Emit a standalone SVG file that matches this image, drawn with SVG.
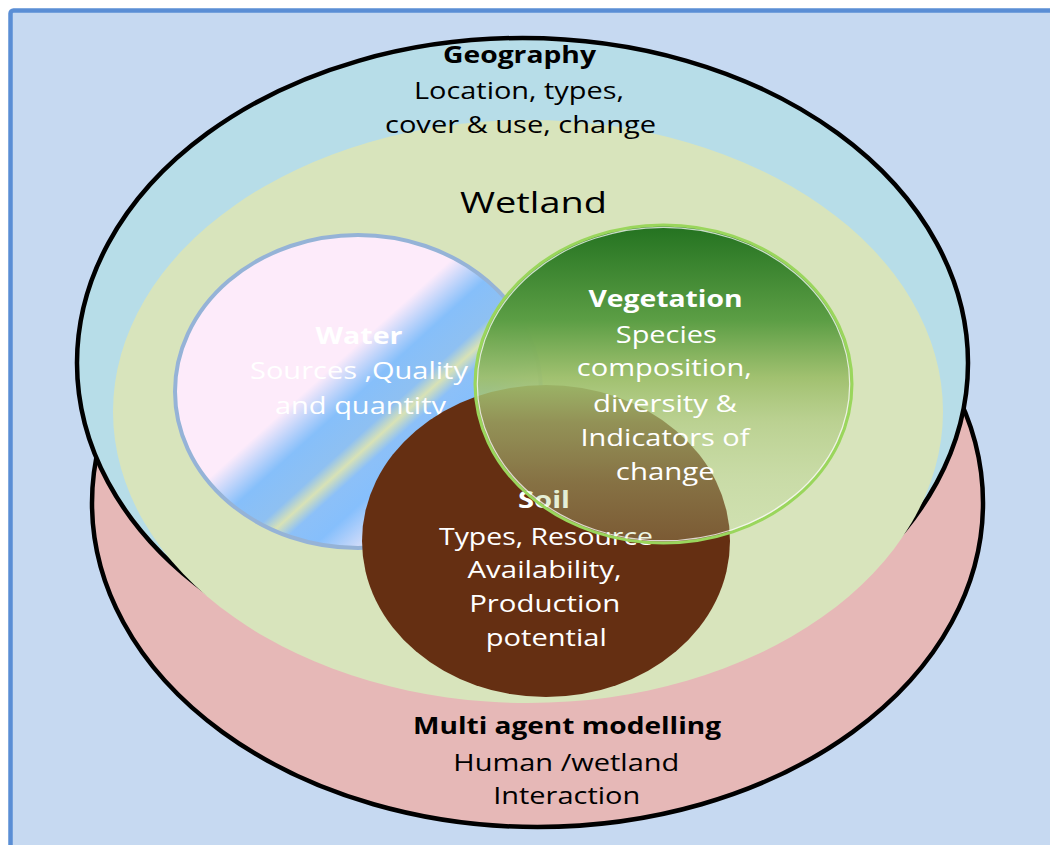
<svg xmlns="http://www.w3.org/2000/svg" width="1050" height="845" viewBox="0 0 1050 845">
  <defs>
    <style>
      text { font-family: "Open Sans", "Noto Sans", "Liberation Sans", sans-serif; text-anchor: middle; }
      .lbl { font-size: 24px; }
      .ttl { font-size: 24px; font-weight: bold; }
      .dark { fill: #000000; }
      .light { fill: #FFFFFF; }
      .ring { stroke: #000000; stroke-width: 4.5; }
    </style>
    <!-- diagonal pink / blue band fill of the water circle -->
    <linearGradient id="waterFill" gradientUnits="userSpaceOnUse" x1="250" y1="270" x2="480" y2="525">
      <stop offset="0" stop-color="#FDEBFA"/>
      <stop offset="0.37" stop-color="#FDEBFA"/>
      <stop offset="0.48" stop-color="#86BFFA"/>
      <stop offset="0.57" stop-color="#8EC0F2"/>
      <stop offset="0.61" stop-color="#D8E2B6"/>
      <stop offset="0.65" stop-color="#8CC0F8"/>
      <stop offset="0.72" stop-color="#86BFFC"/>
      <stop offset="0.84" stop-color="#E6E4F8"/>
      <stop offset="1" stop-color="#FDEBFA"/>
    </linearGradient>
    <!-- vertical green fill of the vegetation circle, fading out towards the bottom -->
    <linearGradient id="vegFill" x1="0" y1="0" x2="0" y2="1">
      <stop offset="0" stop-color="#237220" stop-opacity="1"/>
      <stop offset="0.3" stop-color="#5C9E45" stop-opacity="1"/>
      <stop offset="0.48" stop-color="#9EBF6C" stop-opacity="0.95"/>
      <stop offset="0.62" stop-color="#ABC77B" stop-opacity="0.65"/>
      <stop offset="0.8" stop-color="#B5D08A" stop-opacity="0.42"/>
      <stop offset="1" stop-color="#BCD896" stop-opacity="0.25"/>
    </linearGradient>
  </defs>

  <!-- page -->
  <rect x="0" y="0" width="1050" height="845" fill="#FFFFFF"/>
  <rect x="10.5" y="10.5" width="1100" height="900" rx="3" fill="#C6D9F1" stroke="#5A8ED5" stroke-width="4.5"/>

  <!-- outer band: multi agent modelling -->
  <g id="multi-agent">
    <ellipse cx="537.5" cy="503" rx="445.5" ry="324" fill="#E6B8B7" class="ring"/>
    <text class="ttl dark" x="567" y="734" textLength="308" lengthAdjust="spacingAndGlyphs">Multi agent modelling</text>
    <text class="lbl dark" x="566.3" y="770.5" textLength="226" lengthAdjust="spacingAndGlyphs">Human /wetland</text>
    <text class="lbl dark" x="566.7" y="804" textLength="147" lengthAdjust="spacingAndGlyphs">Interaction</text>
  </g>

  <!-- geography band -->
  <g id="geography">
    <ellipse cx="522.5" cy="363" rx="445.5" ry="325" fill="#B7DDE8" class="ring"/>
  </g>

  <!-- wetland -->
  <g id="wetland">
    <ellipse cx="528" cy="411.5" rx="415" ry="291.5" fill="#D8E4BC"/>
    <text class="dark" x="533.5" y="213" font-size="30" textLength="147" lengthAdjust="spacingAndGlyphs">Wetland</text>
  </g>

  <!-- geography caption sits above the wetland fill -->
  <g id="geography-label">
    <text class="ttl dark" x="519.5" y="63" textLength="153" lengthAdjust="spacingAndGlyphs">Geography</text>
    <text class="lbl dark" x="519" y="99" textLength="210" lengthAdjust="spacingAndGlyphs">Location, types,</text>
    <text class="lbl dark" x="520.5" y="133" textLength="271" lengthAdjust="spacingAndGlyphs">cover &amp; use, change</text>
  </g>

  <!-- water -->
  <g id="water">
    <ellipse cx="358" cy="391.5" rx="183" ry="156.5" fill="url(#waterFill)" stroke="#95B3D7" stroke-width="4"/>
    <text class="ttl light" x="359" y="344" textLength="87" lengthAdjust="spacingAndGlyphs">Water</text>
    <text class="lbl light" x="359" y="379" textLength="218" lengthAdjust="spacingAndGlyphs">Sources ,Quality</text>
    <text class="lbl light" x="360.5" y="414" textLength="171" lengthAdjust="spacingAndGlyphs">and quantity</text>
  </g>

  <!-- soil -->
  <g id="soil">
    <ellipse cx="546" cy="541" rx="184" ry="156" fill="#652F12"/>
    <text class="ttl light" x="544" y="508" textLength="52" lengthAdjust="spacingAndGlyphs">Soil</text>
    <text class="lbl light" x="546" y="545" textLength="214" lengthAdjust="spacingAndGlyphs">Types, Resource</text>
    <text class="lbl light" x="544.5" y="578" textLength="154" lengthAdjust="spacingAndGlyphs">Availability,</text>
    <text class="lbl light" x="544.7" y="611.7" textLength="151" lengthAdjust="spacingAndGlyphs">Production</text>
    <text class="lbl light" x="546.3" y="646" textLength="121" lengthAdjust="spacingAndGlyphs">potential</text>
  </g>

  <!-- vegetation -->
  <g id="vegetation">
    <ellipse cx="663.5" cy="384" rx="188.5" ry="159" fill="url(#vegFill)" stroke="#9AD65C" stroke-width="3"/>
    <ellipse cx="663.5" cy="384" rx="186.2" ry="156.7" fill="none" stroke="#FFFFFF" stroke-width="1.2" stroke-opacity="0.75"/>
    <text class="ttl light" x="665.5" y="306.5" textLength="154" lengthAdjust="spacingAndGlyphs">Vegetation</text>
    <text class="lbl light" x="666.3" y="342.5" textLength="101" lengthAdjust="spacingAndGlyphs">Species</text>
    <text class="lbl light" x="664.3" y="376" textLength="175" lengthAdjust="spacingAndGlyphs">composition,</text>
    <text class="lbl light" x="665" y="411.5" textLength="144" lengthAdjust="spacingAndGlyphs">diversity &amp;</text>
    <text class="lbl light" x="665" y="446" textLength="169" lengthAdjust="spacingAndGlyphs">Indicators of</text>
    <text class="lbl light" x="665.3" y="480" textLength="99" lengthAdjust="spacingAndGlyphs">change</text>
  </g>

  <!-- no connectors in this figure -->
  <g id="connectors"/>
</svg>
